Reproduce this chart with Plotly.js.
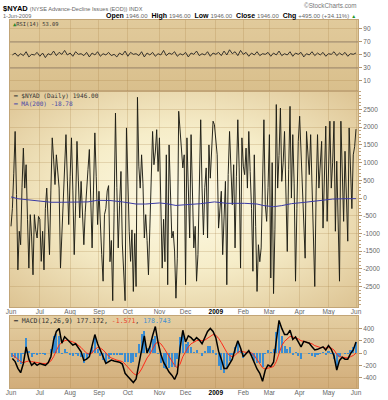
<!DOCTYPE html>
<html><head><meta charset="utf-8">
<script src="https://cdn.plot.ly/plotly-3.0.1.min.js"></script>
<style>html,body{margin:0;padding:0;background:#fff}#chart{width:388px;height:400px}</style>
</head><body><div id="chart"></div>
<script>
// ---- x axis (trading-day index) ----
const months = ['Jun','Jul','Aug','Sep','Oct','Nov','Dec','<b style="color:#000">2009</b>','Feb','Mar','Apr','May','Jun'];
const monthStartIdx = [0,21,43,64,85,108,127,149,169,188,210,231,251];

// ---- $NYAD daily (Jun 2 2008 .. Jun 1 2009) ----
const nyad = [
-800,-300,700,1880,100,-2030,-940,-1320,300,1410,
280,940,-600,-1980,-470,-1100,-2170,-470,-900,-1130,
-520,-600,-1790,-940,-2030,-300,280,-500,-1600,200,
1700,1100,380,1220,600,280,-1980,-1000,0,900,
1790,500,-750,600,1700,200,-1600,-200,1600,500,
-560,470,-300,-1320,-400,90,800,1370,-200,-1410,
200,1840,600,-750,190,-850,-1600,-2350,-470,-300,
200,350,-1800,-1200,-2900,-400,2400,300,-1410,-200,
750,-1300,-2350,-2900,1980,300,-940,-1790,-900,-2640,
-1000,-2500,2845,900,280,1220,400,-1130,-470,-1200,
-2170,-850,300,1880,940,1300,1930,750,1700,-300,
-1980,-600,-1800,1220,-2450,1500,200,-1130,-940,-1500,
-2830,-1700,2450,1900,1600,850,1220,-2450,1700,300,
-1130,1790,200,-1410,-800,-2350,-1600,300,2210,280,
-1040,300,850,-1130,1500,560,1500,2170,2070,1600,
1220,-850,-300,190,-1600,-200,470,-2450,660,1880,
800,-190,940,-1410,600,2210,850,-1980,1700,900,
660,1410,280,1880,750,-300,-2070,1220,-800,-2640,
-1320,-1800,-1410,800,2210,-190,-660,300,1790,-2260,
1000,-2700,-900,2640,280,1200,2540,470,1000,1880,
300,-1510,800,2590,0,1790,400,-2350,-300,1600,
2310,1200,280,-700,-1700,1880,1200,660,1790,300,
-1040,-2500,200,1790,280,900,1600,-850,500,2030,
-660,900,2170,280,1000,2170,-940,1040,-500,-2350,
2170,800,-660,1320,200,-1220,1980,900,-300,1220,
1451,1946];

// ---- MA(200) read at selected days ----
const maIdx = [0,5,12,22,29,37,46,56,63,72,81,91,98,108,113,120,127,138,148,157,170,179,184,191,197,204,214,224,234,243,251];
const ma200 = [30,-20,-50,-95,-120,-120,-110,-110,-65,-70,-110,-170,-170,-140,-160,-210,-190,-160,-110,-150,-150,-170,-215,-245,-215,-160,-120,-65,-30,-20,-18.78];

// ---- indicators read every second trading day (days 1,3,5,...,251) ----
const rsi14 = [
50,53,48,52,49,55,47,51,50,54, 48,53,46,52,50,56,49,54,51,57,
50,53,48,55,51,52,49,54,47,53, 50,55,48,52,50,54,49,51,47,53,
50,56,48,54,51,52,49,55,47,53, 50,54,48,52,50,57,49,53,51,55,
48,52,50,54,47,53,51,56,49,52, 50,55,48,53,51,54,49,56,50,58,
52,55,49,57,51,54,48,53,50,55, 49,52,51,54,48,53,50,56,49,52,
50,55,48,53,51,54,47,52,50,55, 49,53,50,54,48,52,51,55,49,53,
50,54,48,52,51,53.09];
const macdLine = [
-90,-140,-250,-320,-170,100,-100,-200,-160,-200,
-170,-190,-200,-160,-60,210,350,400,160,265,
220,160,130,150,80,20,-120,-100,-60,100,
300,150,30,-60,-170,-140,-114,-130,-140,-150,
-180,-330,-380,-440,-480,-420,-180,50,280,0,
100,280,430,170,-20,-150,-240,-310,-360,-430,
-330,80,370,180,280,250,200,250,210,150,
250,350,400,350,250,30,-100,-250,-250,-170,
-100,60,200,80,-60,-10,40,-50,-170,-260,
-330,-460,-276,-195,-220,-150,200,530,400,300,
300,370,220,260,180,100,190,180,160,100,
50,60,80,100,50,120,60,-50,-276,-120,
-70,-100,-100,-10,50,177.172];
const macdSignal = [
-30,-60,-100,-140,-160,-140,-130,-140,-150,-160,
-160,-170,-170,-160,-130,-60,40,130,170,200,
210,200,180,160,130,90,40,0,-20,0,
60,90,80,50,0,-50,-80,-100,-115,-125,
-140,-180,-230,-280,-330,-360,-330,-260,-160,-80,
-20,60,150,180,150,90,20,-60,-130,-200,
-240,-180,-60,30,100,150,180,200,210,200,
210,240,280,300,290,240,170,80,10,-40,
-60,-40,10,30,20,10,15,0,-40,-100,
-160,-240,-260,-250,-240,-220,-140,10,120,190,
230,270,260,250,230,200,190,180,170,150,
120,100,90,90,80,90,80,50,-20,-60,
-70,-80,-80,-60,-40,-1.571];
const macdHist = [
-60,-80,-150,-180,-10,240,30,-60,-10,-40,
-10,-20,-30,0,70,270,310,270,-10,65,
10,-40,-50,-10,-50,-70,-160,-100,-40,100,
240,60,-50,-110,-170,-90,-34,-30,-25,-25,
-40,-150,-150,-160,-150,-60,150,310,350,80,
120,220,280,-10,-170,-240,-260,-250,-230,-230,
-90,260,330,150,180,100,20,50,0,-50,
40,110,120,50,-40,-210,-270,-330,-240,-130,
-40,100,190,50,-80,-20,25,-50,-130,-160,
-170,-220,-16,55,20,70,340,450,280,110,
70,100,-40,10,-50,-100,0,0,-10,-50,
-70,-40,-10,10,-30,30,-20,-100,-256,-60,
0,-20,-20,50,90,178.743];

// ---- tick labels ----
const rsiTicks = [90,70,50,30,10];
const mainTicks = [2500,2000,1500,1000,500,0,-500,-1000,-1500,-2000,-2500];
const mainTickText = ['2500','2000','1500','1000','500','0','-500','-1000','-1500','-2000','-2500'];
const macdTicks = [400,200,0,-200,-400];
const macdTickText = ['400','200','0','-200','-400'];

// ---- build ----
const dayIdx = nyad.map((_, i) => i);
const oddIdx = rsi14.map((_, k) => 2 * k + 1);

const L = 10, R = 358, T = 20, B = 388, W = 388, H = 400;
const px = x => (x - L) / (R - L);
const py = y => (B - y) / (B - T);

function svgUri(inner) {
  const s = "<svg xmlns='http://www.w3.org/2000/svg' width='100' height='100' viewBox='0 0 100 100' preserveAspectRatio='none'>" + inner + "</svg>";
  return 'data:image/svg+xml;charset=utf-8,' + encodeURIComponent(s);
}
const mainBg = svgUri("<defs><radialGradient id='g' cx='50%' cy='50%' r='72%'><stop offset='0%' stop-color='#fdfae6'/><stop offset='45%' stop-color='#f6edc9'/><stop offset='100%' stop-color='#dcc291'/></radialGradient></defs><rect width='100' height='100' fill='url(#g)'/>");
const rsiBg = svgUri("<defs><linearGradient id='g' x1='0' y1='0' x2='0' y2='1'><stop offset='0%' stop-color='#e1ca9b'/><stop offset='100%' stop-color='#d9bf8c'/></linearGradient></defs><rect width='100' height='100' fill='url(#g)'/>");
const macdBg = svgUri("<defs><linearGradient id='g' x1='0' y1='0' x2='0' y2='1'><stop offset='0%' stop-color='#e4cea1'/><stop offset='100%' stop-color='#d2ad7a'/></linearGradient></defs><rect width='100' height='100' fill='url(#g)'/>");

const dRsi = [py(91), 1];
const dMain = [py(307), py(91)];
const dMacd = [0, py(316)];

const gridc = 'rgba(160,120,60,0.22)';
const linec = '#c2a577';
const tickFont = {family: 'Liberation Sans, Arial, sans-serif', size: 6.5, color: '#666'};
const xr = [-0.73, 252.45];

const xBase = {range: xr, showgrid: true, gridcolor: gridc, gridwidth: 1, zeroline: false,
  tickvals: monthStartIdx, ticktext: months, ticks: '', tickfont: tickFont, ticklabelstandoff: -2,
  showline: true, mirror: true, linecolor: linec, linewidth: 1, fixedrange: true};
const yBase = {side: 'right', showgrid: true, gridcolor: gridc, gridwidth: 1, zeroline: false,
  ticks: 'outside', ticklen: 3, tickcolor: '#b39670', tickfont: tickFont,
  showline: true, mirror: true, linecolor: linec, linewidth: 1, fixedrange: true};

const traces = [
  {type: 'scatter', mode: 'lines', x: oddIdx, y: rsi14, xaxis: 'x3', yaxis: 'y',
   line: {color: '#222', width: 0.9}},
  {type: 'scatter', mode: 'lines', x: dayIdx, y: nyad, xaxis: 'x', yaxis: 'y2',
   line: {color: '#1c1c14', width: 0.95}},
  {type: 'scatter', mode: 'lines', x: maIdx, y: ma200, xaxis: 'x', yaxis: 'y2',
   line: {color: '#3b3ba5', width: 1}},
  {type: 'bar', x: oddIdx, y: macdHist, xaxis: 'x2', yaxis: 'y3', width: 1.5,
   marker: {color: '#3a8dd2', line: {width: 0}}},
  {type: 'scatter', mode: 'lines', x: oddIdx, y: macdSignal, xaxis: 'x2', yaxis: 'y3',
   line: {color: '#ff2a1a', width: 1}},
  {type: 'scatter', mode: 'lines', x: oddIdx, y: macdLine, xaxis: 'x2', yaxis: 'y3',
   line: {color: '#000', width: 1.5}}
];

const sans = 'Liberation Sans, Arial, sans-serif';
const mono = 'DejaVu Sans Mono, monospace';
function ann(x, y, text, font, xanchor) {
  return {xref: 'paper', yref: 'paper', x: px(x), y: py(y), text: text, showarrow: false,
    xanchor: xanchor || 'left', yanchor: 'middle', font: font, borderpad: 0};
}

const layout = {
  width: W, height: H,
  margin: {l: L, r: W - R, t: T, b: H - B, pad: 0},
  paper_bgcolor: '#fff', plot_bgcolor: 'rgba(0,0,0,0)',
  showlegend: false, bargap: 0,
  xaxis: Object.assign({}, xBase, {anchor: 'y2'}),
  xaxis2: Object.assign({}, xBase, {anchor: 'y3', matches: 'x'}),
  xaxis3: Object.assign({}, xBase, {anchor: 'y', matches: 'x', showticklabels: false}),
  yaxis: Object.assign({}, yBase, {domain: dRsi, range: [-5.4, 103.8], anchor: 'x3', tickvals: rsiTicks}),
  yaxis2: Object.assign({}, yBase, {domain: dMain, range: [-3079, 3023], anchor: 'x', tickvals: mainTicks, ticktext: mainTickText,
     minor: {ticks: 'outside', ticklen: 1.5, dtick: 100, tickcolor: '#c0a47c', showgrid: false}}),
  yaxis3: Object.assign({}, yBase, {domain: dMacd, range: [-569, 602], anchor: 'x2', tickvals: macdTicks, ticktext: macdTickText}),
  images: [
    {source: rsiBg, xref: 'paper', yref: 'paper', x: 0, y: dRsi[1], sizex: 1, sizey: dRsi[1] - dRsi[0], sizing: 'stretch', xanchor: 'left', yanchor: 'top', layer: 'below'},
    {source: mainBg, xref: 'paper', yref: 'paper', x: 0, y: dMain[1], sizex: 1, sizey: dMain[1] - dMain[0], sizing: 'stretch', xanchor: 'left', yanchor: 'top', layer: 'below'},
    {source: macdBg, xref: 'paper', yref: 'paper', x: 0, y: dMacd[1], sizex: 1, sizey: dMacd[1] - dMacd[0], sizing: 'stretch', xanchor: 'left', yanchor: 'top', layer: 'below'}
  ],
  shapes: [
    {type: 'line', xref: 'x3 domain', yref: 'y', x0: 0, x1: 1, y0: 70, y1: 70, line: {color: '#9c8872', width: 1}},
    {type: 'line', xref: 'x3 domain', yref: 'y', x0: 0, x1: 1, y0: 30, y1: 30, line: {color: '#9c8872', width: 1}}
  ],
  annotations: [
    ann(2, 8, '<b>$NYAD</b> <span style="font-size:5.6px;color:#666;font-weight:normal">(NYSE Advance-Decline Issues (EOD)) INDX</span>', {family: sans, size: 7.5, color: '#000'}),
    ann(358, 6, '©StockCharts.com', {family: sans, size: 6.3, color: '#777'}, 'right'),
    ann(2, 16, '1-Jun-2009', {family: sans, size: 5.6, color: '#666'}),
    ann(357, 16, '<b>Open</b> <span style="color:#666;font-size:6px">1946.00</span>  <b>High</b> <span style="color:#666;font-size:6px">1946.00</span>  <b>Low</b> <span style="color:#666;font-size:6px">1946.00</span>  <b>Close</b> <span style="color:#666;font-size:6px">1946.00</span>  <b>Chg</b> <span style="color:#666;font-size:6px">+495.00 (+34.11%)</span> <span style="color:#1f9a2a;font-size:5px">▲</span>', {family: sans, size: 7, color: '#000'}, 'right'),
    ann(12, 24, '<span style="color:#2a8a2a">▲</span>RSI(14) 53.09', {family: mono, size: 5.4, color: '#333'}),
    ann(12, 96, '<b>━</b> $NYAD (Daily) 1946.00', {family: mono, size: 6.1, color: '#333'}),
    ann(12, 103.5, '━ MA(200) -18.78', {family: mono, size: 6.1, color: '#4a4aa8'}),
    ann(12, 321, '<b>━</b> MACD(12,26,9) 177.172, <span style="color:#e8402a">-1.571</span>, <span style="color:#3a8dd2">178.743</span>', {family: mono, size: 6.5, color: '#333'})
  ]
};

Plotly.newPlot('chart', traces, layout, {staticPlot: true, displayModeBar: false});
</script>
</body></html>
